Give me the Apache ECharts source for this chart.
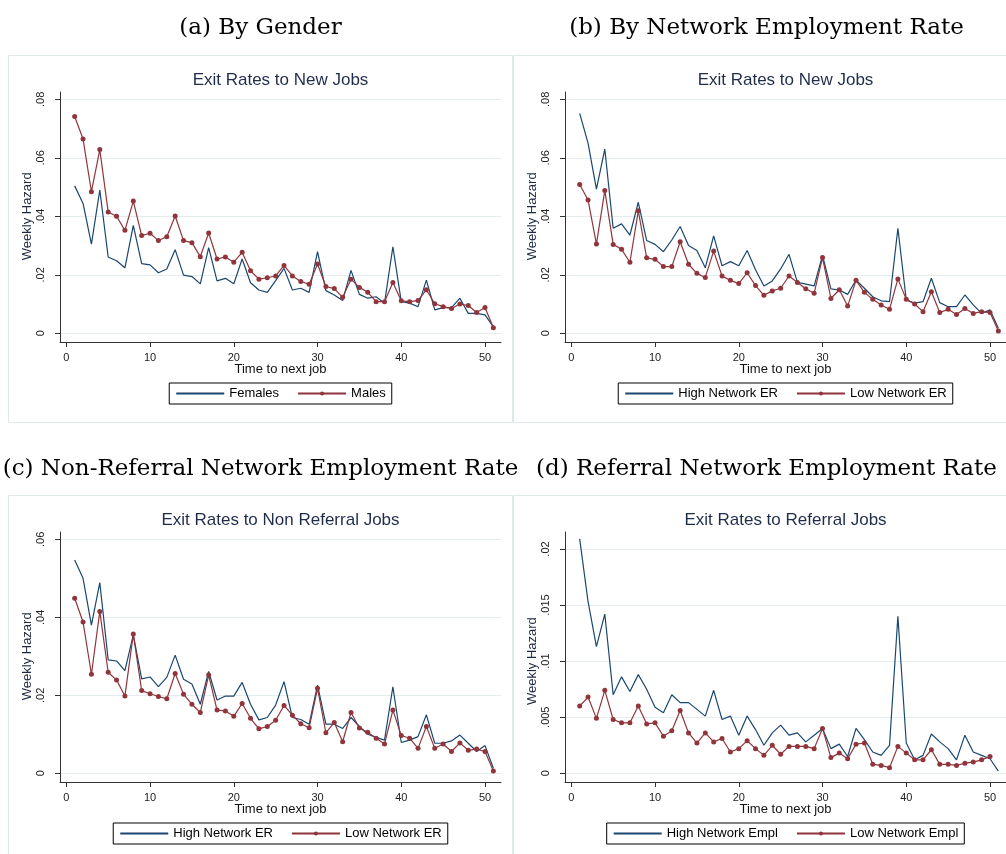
<!DOCTYPE html>
<html>
<head>
<meta charset="utf-8">
<script src="https://cdn.jsdelivr.net/npm/echarts@6/dist/echarts.min.js"></script>
<style>
  html, body { margin: 0; padding: 0; background: #fff; }
  #chart { width: 1006px; height: 854px; }
</style>
</head>
<body>
<div id="chart"></div>
<script>
// Weeks until the next job (x values shared by every panel)
const weeks = [1, 2, 3, 4, 5, 6, 7, 8, 9, 10, 11, 12, 13, 14, 15, 16, 17, 18, 19, 20,
  21, 22, 23, 24, 25, 26, 27, 28, 29, 30, 31, 32, 33, 34, 35, 36, 37, 38, 39, 40,
  41, 42, 43, 44, 45, 46, 47, 48, 49, 50, 51];

// (a) Exit rates to new jobs by gender
const females = [0.0504, 0.0444, 0.0305, 0.0490, 0.0261, 0.0248, 0.0224, 0.0369, 0.0238, 0.0234,
  0.0207, 0.0220, 0.0286, 0.0199, 0.0194, 0.0169, 0.0293, 0.0179, 0.0188, 0.0169,
  0.0254, 0.0173, 0.0148, 0.0140, 0.0180, 0.0222, 0.0148, 0.0154, 0.0140, 0.0279,
  0.0146, 0.0131, 0.0112, 0.0215, 0.0133, 0.0120, 0.0125, 0.0103, 0.0296, 0.0108,
  0.0103, 0.0091, 0.0182, 0.0080, 0.0088, 0.0088, 0.0120, 0.0068, 0.0068, 0.0063, 0.0022];
const males = [0.0741, 0.0664, 0.0484, 0.0628, 0.0415, 0.0400, 0.0352, 0.0452, 0.0334, 0.0342,
  0.0317, 0.0330, 0.0401, 0.0317, 0.0310, 0.0262, 0.0343, 0.0254, 0.0261, 0.0243,
  0.0277, 0.0214, 0.0185, 0.0190, 0.0196, 0.0232, 0.0196, 0.0177, 0.0168, 0.0237,
  0.0160, 0.0153, 0.0123, 0.0185, 0.0157, 0.0140, 0.0108, 0.0108, 0.0174, 0.0111,
  0.0108, 0.0112, 0.0149, 0.0101, 0.0091, 0.0085, 0.0100, 0.0095, 0.0071, 0.0088, 0.0019];

// (b) Exit rates to new jobs by network employment rate
const highNetworkNew = [0.0752, 0.0650, 0.0493, 0.0630, 0.0359, 0.0374, 0.0336, 0.0448, 0.0317, 0.0304,
  0.0279, 0.0319, 0.0365, 0.0300, 0.0283, 0.0224, 0.0333, 0.0231, 0.0245, 0.0231,
  0.0283, 0.0217, 0.0162, 0.0179, 0.0220, 0.0270, 0.0174, 0.0168, 0.0162, 0.0266,
  0.0152, 0.0148, 0.0133, 0.0182, 0.0154, 0.0125, 0.0111, 0.0108, 0.0359, 0.0114,
  0.0103, 0.0108, 0.0188, 0.0105, 0.0091, 0.0091, 0.0131, 0.0097, 0.0068, 0.0080, 0.0017];
const lowNetworkNew = [0.0509, 0.0456, 0.0305, 0.0488, 0.0304, 0.0287, 0.0243, 0.0419, 0.0258, 0.0253,
  0.0228, 0.0228, 0.0313, 0.0236, 0.0205, 0.0191, 0.0281, 0.0196, 0.0181, 0.0170,
  0.0207, 0.0163, 0.0130, 0.0145, 0.0154, 0.0196, 0.0174, 0.0152, 0.0137, 0.0259,
  0.0119, 0.0149, 0.0093, 0.0181, 0.0140, 0.0116, 0.0097, 0.0082, 0.0186, 0.0116,
  0.0100, 0.0074, 0.0142, 0.0071, 0.0082, 0.0064, 0.0085, 0.0068, 0.0074, 0.0071, 0.0008];

// (c) Exit rates to non-referral jobs
const highNetworkNonRef = [0.0547, 0.0500, 0.0380, 0.0489, 0.0291, 0.0288, 0.0263, 0.0355, 0.0242, 0.0247,
  0.0222, 0.0246, 0.0303, 0.0241, 0.0229, 0.0177, 0.0261, 0.0188, 0.0198, 0.0198,
  0.0233, 0.0177, 0.0137, 0.0143, 0.0175, 0.0235, 0.0143, 0.0138, 0.0126, 0.0226,
  0.0126, 0.0126, 0.0115, 0.0143, 0.0120, 0.0100, 0.0092, 0.0085, 0.0222, 0.0079,
  0.0085, 0.0094, 0.0150, 0.0077, 0.0077, 0.0083, 0.0098, 0.0077, 0.0056, 0.0071, 0.0013];
const lowNetworkNonRef = [0.0449, 0.0388, 0.0254, 0.0415, 0.0259, 0.0239, 0.0198, 0.0357, 0.0212, 0.0204,
  0.0197, 0.0191, 0.0256, 0.0203, 0.0177, 0.0156, 0.0252, 0.0162, 0.0160, 0.0146,
  0.0179, 0.0141, 0.0114, 0.0120, 0.0136, 0.0174, 0.0149, 0.0127, 0.0117, 0.0218,
  0.0104, 0.0130, 0.0081, 0.0156, 0.0116, 0.0105, 0.0090, 0.0075, 0.0162, 0.0097,
  0.0090, 0.0064, 0.0120, 0.0064, 0.0075, 0.0056, 0.0078, 0.0059, 0.0062, 0.0056, 0.0006];

// (d) Exit rates to referral jobs
const highNetworkRef = [0.0209, 0.0153, 0.0113, 0.0142, 0.0070, 0.0086, 0.0073, 0.0088, 0.0075, 0.0059,
  0.0054, 0.0070, 0.0063, 0.0063, 0.0057, 0.0051, 0.0074, 0.0048, 0.0051, 0.0034,
  0.0051, 0.0039, 0.0025, 0.0036, 0.0043, 0.0034, 0.0036, 0.0028, 0.0034, 0.0040,
  0.0022, 0.0026, 0.0015, 0.0040, 0.0030, 0.0019, 0.0016, 0.0025, 0.0140, 0.0027,
  0.0012, 0.0016, 0.0035, 0.0028, 0.0022, 0.0012, 0.0034, 0.0019, 0.0016, 0.0013, 0.0002];
const lowNetworkRef = [0.0060, 0.0068, 0.0049, 0.0074, 0.0048, 0.0045, 0.0045, 0.0060, 0.0044, 0.0045,
  0.0033, 0.0038, 0.0056, 0.0036, 0.0027, 0.0036, 0.0028, 0.0031, 0.0019, 0.0022,
  0.0029, 0.0022, 0.0016, 0.0025, 0.0017, 0.0024, 0.0024, 0.0024, 0.0022, 0.0040,
  0.0014, 0.0018, 0.0013, 0.0026, 0.0027, 0.0008, 0.0007, 0.0005, 0.0024, 0.0018,
  0.0012, 0.0012, 0.0021, 0.0008, 0.0008, 0.0007, 0.0009, 0.0010, 0.0012, 0.0015, null];

// Tick values and labels
const xTickValues = [0, 10, 20, 30, 40, 50];
const xTickLabels = ['0', '10', '20', '30', '40', '50'];
const yTicksNew = ['0', '.02', '.04', '.06', '.08'];
const yTicksNonRef = ['0', '.02', '.04', '.06'];
const yTicksRef = ['0', '.005', '.01', '.015', '.02'];

// Text
const headings = ['(a) By Gender', '(b) By Network Employment Rate',
  '(c) Non-Referral Network Employment Rate', '(d) Referral Network Employment Rate'];
const plotTitles = ['Exit Rates to New Jobs', 'Exit Rates to New Jobs',
  'Exit Rates to Non Referral Jobs', 'Exit Rates to Referral Jobs'];
const seriesNames = [['Females', 'Males'], ['High Network ER', 'Low Network ER'],
  ['High Network ER', 'Low Network ER'], ['High Network Empl', 'Low Network Empl']];
const xTitle = 'Time to next job';
const yTitle = 'Weekly Hazard';

// ---- layout / styling ----
const SANS = "'Liberation Sans', Arial, sans-serif";
const SERIF = "'DejaVu Serif', serif";
const NAVY = '#1a476f';
const MAROON = '#90353b';
const AXIS = '#333333';
const GRIDLINE = '#e4ecee';

const panels = [
  { col: 0, row: 0, a: females, b: males, yMax: 0.08, yStep: 0.02, yTicks: yTicksNew, topTick: 99.3 },
  { col: 1, row: 0, a: highNetworkNew, b: lowNetworkNew, yMax: 0.08, yStep: 0.02, yTicks: yTicksNew, topTick: 99.3 },
  { col: 0, row: 1, a: highNetworkNonRef, b: lowNetworkNonRef, yMax: 0.06, yStep: 0.02, yTicks: yTicksNonRef, topTick: 99.3 },
  { col: 1, row: 1, a: highNetworkRef, b: lowNetworkRef, yMax: 0.02, yStep: 0.005, yTicks: yTicksRef, topTick: 109 }
];
const DX = 505, DY = 440;
const FRAME = { left: 60, top: 92, width: 441, height: 250 };
const ZERO_Y = 333.3;
const X0 = 66.3, X_PER_WEEK = 418.7 / 50, X_MAX = 51;

const measure = document.createElement('canvas').getContext('2d');
measure.font = "13px 'Liberation Sans'";
function legendWidth(names) {
  let w = 12 + 18 * (names.length - 1);
  names.forEach(n => { w += 48 + 5 + measure.measureText(n).width; });
  return w + 2;
}

const grid = [], xAxis = [], yAxis = [], series = [], title = [], legend = [], graphicEls = [];

panels.forEach((p, i) => {
  const ox = p.col * DX, oy = p.row * DY;
  const names = seriesNames[i];
  const plotH = ZERO_Y - p.topTick;

  // panel box
  graphicEls.push({
    type: 'rect', silent: true, z: 0,
    shape: { x: 8.5 + ox, y: 55.5 + oy, width: 504, height: p.row ? 420 : 367 },
    style: { fill: 'transparent', stroke: '#e0e8ea', lineWidth: 1 }
  });

  // frame grid (axis lines), gridline grid (y ticks, labels, grid lines), data grid
  grid.push({ left: FRAME.left + ox, top: FRAME.top + oy, width: FRAME.width, height: FRAME.height });
  grid.push({ left: FRAME.left + ox, top: p.topTick + oy, width: FRAME.width, height: plotH });
  grid.push({ left: X0 + ox, top: p.topTick + oy, width: X_PER_WEEK * X_MAX, height: plotH });
  const g = i * 3;

  xAxis.push({
    gridIndex: g, type: 'value', min: 0, max: 1,
    axisLine: { show: true, onZero: false, lineStyle: { color: AXIS, width: 1 } },
    axisTick: { show: false }, axisLabel: { show: false }, splitLine: { show: false }
  });
  yAxis.push({
    gridIndex: g, type: 'value', min: 0, max: 1,
    axisLine: { show: true, onZero: false, lineStyle: { color: AXIS, width: 1 } },
    axisTick: { show: false }, axisLabel: { show: false }, splitLine: { show: false }
  });

  xAxis.push({
    gridIndex: g + 1, type: 'value', min: 0, max: 1,
    axisLine: { show: false, onZero: false }, axisTick: { show: false },
    axisLabel: { show: false }, splitLine: { show: false },
    name: xTitle, nameLocation: 'middle', nameGap: 30,
    nameTextStyle: { fontFamily: SANS, fontSize: 13, color: '#111' }
  });
  yAxis.push({
    gridIndex: g + 1, type: 'value', min: 0, max: p.yMax, interval: p.yStep,
    axisLine: { show: false },
    axisTick: { show: true, length: 5, lineStyle: { color: AXIS } },
    axisLabel: {
      rotate: 90, margin: 14, fontFamily: SANS, fontSize: 11, color: '#222',
      formatter: v => { const k = Math.round(v / p.yStep); return Math.abs(v - k * p.yStep) < 1e-9 ? (p.yTicks[k] || '') : ''; }
    },
    splitLine: { show: true, lineStyle: { color: GRIDLINE, width: 1 } },
    name: yTitle, nameLocation: 'middle', nameGap: 25,
    nameTextStyle: { fontFamily: SANS, fontSize: 13, color: '#1d2a44' }
  });

  xAxis.push({
    gridIndex: g + 2, type: 'value', min: 0, max: X_MAX, offset: 8.7,
    axisLine: { show: false, onZero: false },
    axisTick: { show: true, length: 5, customValues: xTickValues, lineStyle: { color: AXIS } },
    axisLabel: {
      margin: 10, fontFamily: SANS, fontSize: 11, color: '#222',
      customValues: xTickValues,
      formatter: v => xTickLabels[xTickValues.indexOf(v)] || ''
    },
    splitLine: { show: false }
  });
  yAxis.push({ gridIndex: g + 2, type: 'value', min: 0, max: p.yMax, show: false });

  series.push({
    name: names[0], type: 'line', xAxisIndex: g + 2, yAxisIndex: g + 2,
    data: weeks.map((w, k) => [w, p.a[k]]),
    symbol: 'none', clip: false, silent: true,
    lineStyle: { color: NAVY, width: 1.2 }, itemStyle: { color: NAVY },
    emphasis: { disabled: true }
  });
  series.push({
    name: names[1], type: 'line', xAxisIndex: g + 2, yAxisIndex: g + 2,
    data: weeks.map((w, k) => [w, p.b[k]]),
    symbol: 'circle', symbolSize: 5, showSymbol: true, clip: false, silent: true,
    connectNulls: false,
    lineStyle: { color: MAROON, width: 1.2 }, itemStyle: { color: MAROON },
    emphasis: { disabled: true }
  });

  // headings and plot titles
  title.push({
    text: headings[i], left: 260.5 + ox + (p.col ? 1 : 0), top: 17 + oy + (p.row ? 1 : 0), textAlign: 'center', padding: 0,
    textStyle: { fontFamily: SERIF, fontSize: 23, fontWeight: 'normal', color: '#000' }
  });
  title.push({
    text: plotTitles[i], left: 280.5 + ox, top: 72 + oy, textAlign: 'center', padding: 0,
    textStyle: { fontFamily: SANS, fontSize: 17, fontWeight: 'normal', color: '#1f2d4d' }
  });

  // legend, centred under the plot region
  const lw = legendWidth(names);
  legend.push({
    top: 383 + oy, left: 280.5 + ox - lw / 2,
    orient: 'horizontal', selectedMode: false,
    data: [{ name: names[0], itemStyle: { opacity: 0 } }, { name: names[1] }],
    itemWidth: 48, itemHeight: 5, itemGap: 18, padding: [4, 6],
    borderColor: '#000', borderWidth: 1, backgroundColor: '#fff',
    textStyle: { fontFamily: SANS, fontSize: 13, color: '#000' }
  });
});

const chart = echarts.init(document.getElementById('chart'), null, { renderer: 'canvas' });
chart.setOption({
  backgroundColor: '#ffffff',
  animation: false,
  title, legend, grid, xAxis, yAxis, series,
  graphic: { elements: graphicEls }
});
</script>
</body>
</html>
